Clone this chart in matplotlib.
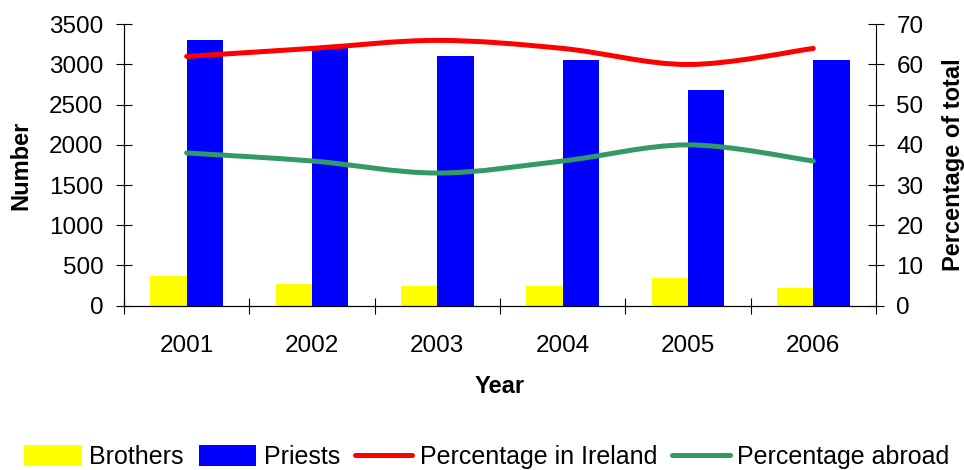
import numpy as np
import matplotlib
matplotlib.use("Agg")
import matplotlib.pyplot as plt
from matplotlib.path import Path
from matplotlib.patches import PathPatch
from matplotlib.lines import Line2D

plt.rcParams['font.family'] = ['Liberation Sans', 'DejaVu Sans']

years = ['2001', '2002', '2003', '2004', '2005', '2006']
brothers = [370, 270, 240, 240, 350, 220]
priests = [3300, 3200, 3100, 3050, 2680, 3050]
pct_ireland = [62, 64, 66, 64, 60, 64]
pct_abroad = [38, 36, 33, 36, 40, 36]


def smooth_path(xs, ys):
    # Catmull-Rom through the points, as cubic Bezier segments
    pts = np.column_stack([xs, ys]).astype(float)
    verts = [pts[0]]
    codes = [Path.MOVETO]
    n = len(pts)
    for i in range(n - 1):
        p0 = pts[max(i - 1, 0)]
        p1 = pts[i]
        p2 = pts[i + 1]
        p3 = pts[min(i + 2, n - 1)]
        c1 = p1 + (p2 - p0) / 6.0
        c2 = p2 - (p3 - p1) / 6.0
        verts += [c1, c2, p2]
        codes += [Path.CURVE4] * 3
    return Path(verts, codes)


fig = plt.figure(figsize=(9.64, 4.70), dpi=100)
ax = fig.add_axes([0.1286, 0.3496, 0.7801, 0.5987])
x = np.arange(len(years))
w = 0.29
b1 = ax.bar(x - w / 2, brothers, w, color='#FFFF00', label='Brothers')
b2 = ax.bar(x + w / 2, priests, w, color='#0000FF', label='Priests')

ax.set_xlim(-0.5, len(years) - 0.5)
ax.set_ylim(0, 3500)
ax.set_yticks(np.arange(0, 3501, 500))
ax.set_xticks(x)
ax.set_xticklabels(years)
ax.set_xticks(np.arange(-0.5, len(years)), minor=True)
ax.tick_params(axis='x', which='major', length=0, labelsize=17.5, pad=21)
ax.tick_params(axis='x', which='minor', direction='inout', length=11.5, width=0.8)
ax.tick_params(axis='y', direction='inout', length=11.5, width=0.8, labelsize=17.5, pad=9)
ax.spines['top'].set_visible(False)
ax.spines['right'].set_visible(False)
ax.set_ylabel('Number', fontsize=17, fontweight='bold', labelpad=12)
ax.set_xlabel('Year', fontsize=17, fontweight='bold', labelpad=13)

ax2 = ax.twinx()
ax2.set_ylim(0, 70)
ax2.set_yticks(np.arange(0, 71, 10))
ax2.tick_params(axis='y', direction='inout', length=11.5, width=0.8, labelsize=17.5, pad=9)
ax2.spines['top'].set_visible(False)
ax2.set_ylabel('Percentage of total', fontsize=17, fontweight='bold', labelpad=13)

for vals, col in [(pct_ireland, '#FF0000'), (pct_abroad, '#339966')]:
    ax2.add_patch(PathPatch(smooth_path(x, vals), facecolor='none', edgecolor=col,
                            lw=3.6, capstyle='round', joinstyle='round'))

handles = [b1, b2,
           Line2D([], [], color='#FF0000', lw=3.6, solid_capstyle='round'),
           Line2D([], [], color='#339966', lw=3.6, solid_capstyle='round')]
labels = ['Brothers', 'Priests', 'Percentage in Ireland', 'Percentage abroad']
fig.legend(handles, labels, loc='lower center', bbox_to_anchor=(0.505, 0.002),
           ncol=4, frameon=False, fontsize=18, handlelength=2.3, handleheight=0.9,
           handletextpad=0.3, columnspacing=0.6, borderpad=0, borderaxespad=0)

fig.savefig('out.png', dpi=100)
